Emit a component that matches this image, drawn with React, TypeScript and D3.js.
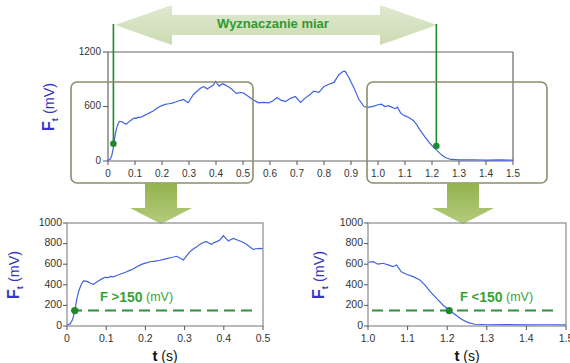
import React from "react";
import * as d3 from "d3";

// Signal F_t (mV) versus t (s)
const signalT = [
  0.0, 0.008, 0.014, 0.02, 0.025, 0.03, 0.036, 0.042, 0.048, 0.054, 0.06, 0.067, 0.075, 0.084, 0.09, 0.097,
  0.105, 0.112, 0.118, 0.127, 0.135, 0.144, 0.152, 0.16, 0.169, 0.178, 0.19, 0.2, 0.212, 0.225, 0.237, 0.25,
  0.263, 0.272, 0.28, 0.29, 0.297, 0.305, 0.314, 0.322, 0.331, 0.338, 0.344, 0.35, 0.356, 0.362, 0.369, 0.375,
  0.382, 0.39, 0.399, 0.405, 0.412, 0.418, 0.425, 0.433, 0.441, 0.45, 0.458, 0.466, 0.475, 0.483, 0.492, 0.5,
  0.515, 0.534, 0.558, 0.575, 0.595, 0.61, 0.626, 0.64, 0.657, 0.676, 0.694, 0.713, 0.731, 0.75, 0.762, 0.781,
  0.8, 0.818, 0.837, 0.855, 0.87, 0.878, 0.892, 0.911, 0.929, 0.948, 0.963, 0.985, 1.0, 1.013, 1.025, 1.038,
  1.051, 1.063, 1.072, 1.084, 1.097, 1.114, 1.131, 1.144, 1.156, 1.173, 1.19, 1.205, 1.22, 1.236, 1.253, 1.27,
  1.3, 1.35, 1.4, 1.45, 1.5,
];
const signalV = [
  10, 20, 60, 150, 260, 340, 400, 437, 435, 428, 415, 405, 425, 447, 460, 473,
  470, 482, 478, 490, 502, 515, 527, 540, 553, 575, 598, 610, 624, 630, 638, 650,
  663, 670, 677, 655, 641, 680, 722, 748, 770, 790, 803, 815, 819, 805, 793, 810,
  819, 835, 877, 850, 825, 840, 851, 838, 825, 810, 793, 770, 744, 750, 754, 750,
  720, 680, 640, 645, 640, 660, 700, 670, 655, 690, 710, 645, 695, 735, 770, 755,
  820, 845, 865, 950, 985, 990, 920, 805, 680, 600, 590, 605, 619, 625, 600, 609,
  593, 576, 593, 527, 502, 479, 446, 397, 339, 268, 202, 153, 111, 65, 33, 17,
  12, 14, 10, 12, 10,
];

const topXTicks = [0, 0.1, 0.2, 0.3, 0.4, 0.5, 0.6, 0.7, 0.8, 0.9, 1.0, 1.1, 1.2, 1.3, 1.4, 1.5];
const topYTicks = [0, 600, 1200];
const detailYTicks = [0, 200, 400, 600, 800, 1000];
const leftXTicks = [0, 0.1, 0.2, 0.3, 0.4, 0.5];
const rightXTicks = [1.0, 1.1, 1.2, 1.3, 1.4, 1.5];
const thresholdMV = 150;
const startT = 0.02;
const endT = 1.205;
const bannerText = "Wyznaczanie miar";

type Pt = { t: number; v: number };
const signal: Pt[] = signalT.map((t, i) => ({ t, v: signalV[i] }));

const BLUE = "#3f63e0";
const LABEL_BLUE = "#3434c8";
const GREEN = "#1f8a2a";
const TEXT_GREEN = "#36a336";
const FONT = "Arial, 'Liberation Sans', sans-serif";

function YLabel({ x, y, size }: { x: number; y: number; size: number }) {
  return (
    <text
      transform={`translate(${x},${y}) rotate(-90)`}
      textAnchor="middle"
      fill={LABEL_BLUE}
      fontFamily={FONT}
      fontSize={size}
      dominantBaseline="middle"
    >
      <tspan fontWeight="bold">F</tspan>
      <tspan fontWeight="bold" fontSize={size * 0.6} dy={size * 0.3}>t</tspan>
      <tspan dy={-size * 0.3} fontSize={size * 0.9}>{"  (mV)"}</tspan>
    </text>
  );
}

function DetailChart({
  id,
  x0,
  x1,
  domain,
  xTicks,
  markT,
  labelX,
  labelText,
  labelOp,
  yLabelX,
}: {
  id: string;
  x0: number;
  x1: number;
  domain: [number, number];
  xTicks: number[];
  markT: number;
  labelX: number;
  labelText: string;
  labelOp: string;
  yLabelX: number;
}) {
  const x = d3.scaleLinear().domain(domain).range([x0, x1]);
  const y = d3.scaleLinear().domain([0, 1000]).range([326, 223]);
  const pts = signal.filter((p) => p.t >= domain[0] - 0.03 && p.t <= domain[1] + 0.03);
  const line = d3
    .line<Pt>()
    .x((p) => x(p.t))
    .y((p) => y(p.v))
    .curve(d3.curveLinear);
  const fmt = (t: number) => (t === 0 ? "0" : t.toFixed(1));
  return (
    <g>
      <defs>
        <clipPath id={id}>
          <rect x={x0} y={223} width={x1 - x0} height={103} />
        </clipPath>
      </defs>
      <path d={line(pts) || ""} fill="none" stroke={BLUE} strokeWidth={1.2} clipPath={`url(#${id})`} />
      <rect x={x0} y={223} width={x1 - x0} height={103} fill="none" stroke="#8a8a8a" strokeWidth={1.2} />
      {detailYTicks.map((v) => (
        <g key={v}>
          <line x1={x0 - 4} x2={x0} y1={y(v)} y2={y(v)} stroke="#555" strokeWidth={1} />
          <text x={x0 - 5} y={y(v)} textAnchor="end" dominantBaseline="middle" fontFamily={FONT} fontSize={10.5} fill="#333">
            {v}
          </text>
        </g>
      ))}
      {xTicks.map((t) => (
        <g key={t}>
          <line x1={x(t)} x2={x(t)} y1={326} y2={330} stroke="#555" strokeWidth={1} />
          <text x={x(t)} y={339} textAnchor="middle" dominantBaseline="middle" fontFamily={FONT} fontSize={10.5} fill="#333">
            {fmt(t)}
          </text>
        </g>
      ))}
      <line
        x1={x0 + 4}
        x2={x1 - 10}
        y1={y(thresholdMV)}
        y2={y(thresholdMV)}
        stroke="#2f8f3a"
        strokeWidth={2}
        strokeDasharray="11,6"
      />
      <circle cx={x(markT)} cy={y(thresholdMV)} r={3.6} fill={GREEN} />
      <text x={labelX} y={298} dominantBaseline="middle" fontFamily={FONT} fill={TEXT_GREEN} fontSize={13}>
        <tspan fontWeight="bold">{"F " + labelOp}</tspan>
        <tspan fontWeight="bold" fontSize={14}>{labelText}</tspan>
        <tspan fontSize={12.5}>{" (mV)"}</tspan>
      </text>
      <text x={(x0 + x1) / 2} y={357} textAnchor="middle" dominantBaseline="middle" fontFamily={FONT} fill="#111">
        <tspan fontWeight="bold" fontSize={15}>t</tspan>
        <tspan fontSize={14}>{" (s)"}</tspan>
      </text>
      <YLabel x={yLabelX} y={275} size={16} />
    </g>
  );
}

export default function App() {
  const x = d3.scaleLinear().domain([0, 1.5]).range([108, 513]);
  const y = d3.scaleLinear().domain([0, 1200]).range([161, 52]);
  const line = d3
    .line<Pt>()
    .x((p) => x(p.t))
    .y((p) => y(p.v));
  const fmt = (t: number) => (t === 0 ? "0" : t.toFixed(1));

  const startX = x(startT);
  const endX = x(endT) + 3;
  const startY = y(thresholdMV + 40);
  const endY = y(thresholdMV + 15);

  const bigArrow = (() => {
    const l = 115, r = 437, cy = 25, hl = 57, hh = 20, sh = 10;
    return `M${l},${cy} L${l + hl},${cy - hh} L${l + hl},${cy - sh} L${r - hl},${cy - sh} L${r - hl},${cy - hh} L${r},${cy} L${r - hl},${cy + hh} L${r - hl},${cy + sh} L${l + hl},${cy + sh} L${l + hl},${cy + hh} Z`;
  })();
  const downArrow = (cx: number) => {
    const top = 183, neck = 208, tip = 224, sw = 16, hw = 31;
    return `M${cx - sw},${top} L${cx + sw},${top} L${cx + sw},${neck} L${cx + hw},${neck} L${cx},${tip} L${cx - hw},${neck} L${cx - sw},${neck} Z`;
  };

  return (
    <svg
      width={570}
      height={363}
      viewBox="0 0 570 363"
      style={{ position: "absolute", left: 0, top: 0, background: "#fff" }}
    >
      <defs>
        <linearGradient id="bigArrowGrad" x1="0" y1="0" x2="0" y2="1">
          <stop offset="0" stopColor="#dfe9d0" />
          <stop offset="1" stopColor="#cbdbb3" />
        </linearGradient>
        <linearGradient id="downGrad" x1="0" y1="0" x2="0" y2="1">
          <stop offset="0" stopColor="#93b24e" />
          <stop offset="1" stopColor="#b4cc7c" />
        </linearGradient>
      </defs>
      <rect x={0} y={0} width={570} height={363} fill="#fff" />

      {/* banner arrow */}
      <path d={bigArrow} fill="url(#bigArrowGrad)" />
      <text
        x={273}
        y={25}
        textAnchor="middle"
        dominantBaseline="middle"
        fontFamily={FONT}
        fontWeight="bold"
        fontSize={13}
        fill="#2f9a2f"
      >
        {bannerText}
      </text>

      {/* top chart frame */}
      <line x1={108} x2={513} y1={52} y2={52} stroke="#666" strokeWidth={1.2} />
      <line x1={513} x2={513} y1={52} y2={161} stroke="#666" strokeWidth={1.2} />
      <line x1={108} x2={108} y1={52} y2={161} stroke="#666" strokeWidth={1.2} />
      <line x1={108} x2={513} y1={161} y2={161} stroke="#666" strokeWidth={1.2} />
      {topYTicks.map((v) => (
        <g key={v}>
          <line x1={103} x2={108} y1={y(v)} y2={y(v)} stroke="#555" />
          <text x={101} y={y(v)} textAnchor="end" dominantBaseline="middle" fontFamily={FONT} fontSize={10} fill="#333">
            {v}
          </text>
        </g>
      ))}
      {topXTicks.map((t) => (
        <g key={t}>
          <line x1={x(t)} x2={x(t)} y1={161} y2={165} stroke="#555" />
          <text x={x(t)} y={174} textAnchor="middle" dominantBaseline="middle" fontFamily={FONT} fontSize={10} fill="#333">
            {fmt(t)}
          </text>
        </g>
      ))}
      <path d={line(signal) || ""} fill="none" stroke={BLUE} strokeWidth={1.2} />
      <YLabel x={50} y={107} size={16} />

      {/* marker lines */}
      <line x1={startX} x2={startX} y1={24} y2={startY} stroke={GREEN} strokeWidth={1.6} />
      <circle cx={startX} cy={startY} r={3.3} fill={GREEN} />
      <line x1={endX} x2={endX} y1={24} y2={endY} stroke={GREEN} strokeWidth={1.6} />
      <circle cx={endX} cy={endY} r={3.3} fill={GREEN} />

      {/* highlight boxes */}
      <rect x={71} y={82} width={182} height={101} rx={6} fill="none" stroke="#8d8d6e" strokeWidth={1.6} />
      <rect x={367} y={82} width={180} height={101} rx={6} fill="none" stroke="#8d8d6e" strokeWidth={1.6} />

      {/* down arrows */}
      <path d={downArrow(161)} fill="url(#downGrad)" />
      <path d={downArrow(463)} fill="url(#downGrad)" />

      <DetailChart
        id="clipL"
        x0={67}
        x1={263}
        domain={[0, 0.5]}
        xTicks={leftXTicks}
        markT={startT}
        labelX={100}
        labelText="150"
        labelOp=">"
        yLabelX={15}
      />
      <DetailChart
        id="clipR"
        x0={368}
        x1={566}
        domain={[1.0, 1.5]}
        xTicks={rightXTicks}
        markT={endT}
        labelX={460}
        labelText="150"
        labelOp="<"
        yLabelX={320}
      />
    </svg>
  );
}
